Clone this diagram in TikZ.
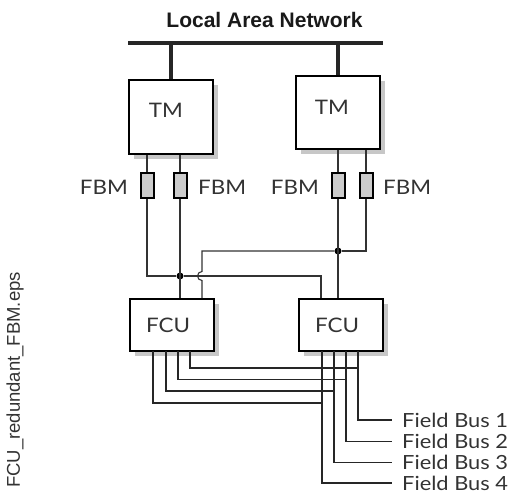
\documentclass[tikz,border=0pt]{standalone}
\usepackage{fontspec}
\setmainfont{Lato}
\newfontfamily\gillfont[FakeStretch=1.12]{Lato}
\newfontfamily\arialfont{Liberation Sans}
\usetikzlibrary{shadows}
\begin{document}
\begin{tikzpicture}[x=1pt,y=-1pt,
  unitbox/.style={draw, line width=1.8pt, fill=white, inner sep=0pt,
    drop shadow={shadow xshift=5pt, shadow yshift=-5pt, fill=black!22, opacity=1}},
  fbmbox/.style={draw, line width=2pt, fill=black!20, inner sep=0pt,
    minimum width=13pt, minimum height=25pt},
  lbl/.style={inner sep=0pt, font=\gillfont\fontsize{20}{20}\selectfont, text=black!80},
  buslbl/.style={inner sep=0pt, anchor=west, font=\gillfont\fontsize{19.5}{19.5}\selectfont, text=black!80},
  thin/.style={line width=1.1pt, black!80},
  bus/.style={line width=1.8pt, black!85},
  dot/.style={circle, fill=black, inner sep=0pt, minimum size=7pt}
]
\useasboundingbox (0,0) rectangle (510,497);

% title and LAN
\node[inner sep=0pt, font=\arialfont\bfseries\fontsize{21}{21}\selectfont, text=black!90] (lantitle) at (264.5,20) {Local Area Network};
\coordinate (lanL) at (128,43);
\coordinate (lanR) at (383,43);
\draw[line width=4pt, black!85] (lanL) -- (lanR);

% TM boxes
\node[unitbox, minimum width=84pt, minimum height=74pt] (tmL) at (171,117) {};
\node[unitbox, minimum width=84pt, minimum height=73pt] (tmR) at (338,112.5) {};
\node[lbl] (tmLt) at (166,110) {TM};
\node[lbl] (tmRt) at (332,107) {TM};
\coordinate (lanA) at (171,43);
\coordinate (lanB) at (338,43);
\draw[line width=4pt, black!85] (lanA) -- (tmL.north);
\draw[line width=4pt, black!85] (lanB) -- (tmR.north);

% FBM boxes
\node[fbmbox] (fL1) at (147,185.5) {};
\node[fbmbox] (fL2) at (180,185.5) {};
\node[fbmbox] (fR1) at (338,185.5) {};
\node[fbmbox] (fR2) at (366,185.5) {};
\node[lbl, anchor=east] (fL1t) at (128,187.5) {FBM};
\node[lbl, anchor=west] (fL2t) at (198,187.5) {FBM};
\node[lbl, anchor=east] (fR1t) at (319,187.5) {FBM};
\node[lbl, anchor=west] (fR2t) at (383,187.5) {FBM};

% FCU boxes
\node[unitbox, minimum width=84pt, minimum height=52pt] (fcuL) at (172,325) {};
\node[unitbox, minimum width=84pt, minimum height=52pt] (fcuR) at (341,325) {};
\node[lbl] (fcuLt) at (168,325) {FCU};
\node[lbl] (fcuRt) at (337,325) {FCU};

% TM to FBM
\draw[thin] (tmL.south -| fL1) -- (fL1.north);
\draw[thin] (tmL.south -| fL2) -- (fL2.north);
\draw[thin] (tmR.south -| fR1) -- (fR1.north);
\draw[thin] (tmR.south -| fR2) -- (fR2.north);

% junctions
\node[dot] (j1) at (180,276) {};
\node[dot] (j2) at (338,251) {};
\coordinate (aR) at (321,276);
\coordinate (bL) at (202,251);

\draw[thin] (fL1.south) |- (j1);
\draw[thin] (fL2.south) -- (fcuL.north -| fL2);
\draw[thin] (j1) -- (aR) -- (fcuR.north -| aR);
\draw[thin] (fR1.south) -- (fcuR.north -| fR1);
\draw[thin] (fR2.south) |- (j2);
\draw[thin] (j2) -- (bL) -- (202,271.5) arc[start angle=90, end angle=270, radius=4.5pt] -- (fcuL.north -| bL);

% field buses
\coordinate (l1) at (190,351); \coordinate (r1) at (358,351);
\coordinate (l2) at (178,351); \coordinate (r2) at (346,351);
\coordinate (l3) at (166,351); \coordinate (r3) at (334,351);
\coordinate (l4) at (153,351); \coordinate (r4) at (322,351);
\coordinate (e1) at (392,420);
\coordinate (e2) at (392,441.5);
\coordinate (e3) at (392,462.5);
\coordinate (e4) at (392,483);

\draw[bus] (l1) |- (r1 |- 0,368);
\draw[bus] (l2) |- (r2 |- 0,379.5);
\draw[bus] (l3) |- (r3 |- 0,391);
\draw[bus] (l4) |- (r4 |- 0,403);
\draw[bus] (r1) |- (e1);
\draw[bus] (r2) |- (e2);
\draw[bus] (r3) |- (e3);
\draw[bus] (r4) |- (e4);

\node[buslbl] (fb1) at (402,420) {Field Bus 1};
\node[buslbl] (fb2) at (402,441.5) {Field Bus 2};
\node[buslbl] (fb3) at (402,462.5) {Field Bus 3};
\node[buslbl] (fb4) at (402,483) {Field Bus 4};

% side label
\node[inner sep=0pt, rotate=90, font=\arialfont\fontsize{18.5}{18.5}\selectfont, text=black!80] (fname) at (15,380) {FCU\_redundant\_FBM.eps};
\end{tikzpicture}
\end{document}
